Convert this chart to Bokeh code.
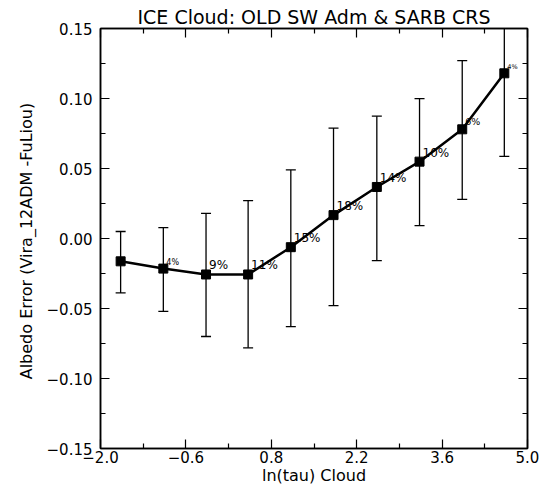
from bokeh.plotting import figure
from bokeh.models import (LinearAxis, FixedTicker, CustomJSTickFormatter, ColumnDataSource, Range1d)
from bokeh.embed import file_html
from bokeh.resources import INLINE
from bokeh.core.properties import value

# ---- data ----
ln_tau = [-1.67, -0.97, -0.27, 0.42, 1.12, 1.82, 2.53, 3.23, 3.93, 4.62]
albedo_err = [-0.0163, -0.0215, -0.0257, -0.0257, -0.0062, 0.0167, 0.0368, 0.0549, 0.0780, 0.1180]
err_upper = [0.0050, 0.0078, 0.0179, 0.0271, 0.0490, 0.0789, 0.0874, 0.0999, 0.1270, 0.1780]
err_lower = [-0.0389, -0.0521, -0.0700, -0.0781, -0.0629, -0.0479, -0.0158, 0.0092, 0.0280, 0.0587]
pct_labels = ["", "4%", "9%", "11%", "15%", "18%", "14%", "10%", "6%", "4%"]

x_ticks = [-2.0, -0.6, 0.8, 2.2, 3.6, 5.0]
x_minor = [-1.3, 0.1, 1.5, 2.9, 4.3]
y_ticks = [-0.15, -0.10, -0.05, 0.0, 0.05, 0.10, 0.15]
y_minor = [-0.125, -0.075, -0.025, 0.025, 0.075, 0.125]

# ---- styles ----
FONT = "DejaVu Sans"
label_sizes = ["1px", "8px", "12px", "12px", "12px", "12px", "12px", "12px", "9.5px", "6.5px"]

p = figure(width=542, height=487, output_backend="svg", toolbar_location=None,
           x_range=Range1d(-2.0, 5.0), y_range=Range1d(-0.15, 0.15),
           min_border_left=100, min_border_right=15, min_border_top=28, min_border_bottom=35,
           title="ICE Cloud: OLD SW Adm & SARB CRS")
p.title.align = "center"
p.title.text_font = FONT
p.title.text_font_size = "19px"
p.title.text_font_style = "normal"
p.title.text_color = "black"
p.title.standoff = 2
p.grid.visible = False
p.outline_line_color = "black"
p.outline_line_width = 1.5
p.background_fill_color = "white"
p.border_fill_color = "white"

xfmt = CustomJSTickFormatter(code="return (tick < 0 ? '\u2212' : '') + Math.abs(tick).toFixed(1);")
yfmt = CustomJSTickFormatter(code="return (tick < 0 ? '\u2212' : '') + Math.abs(tick).toFixed(2);")

def style_axis(ax, ticks, minor, fmt, show_labels):
    ax.ticker = FixedTicker(ticks=ticks, minor_ticks=minor)
    ax.axis_line_color = "black"
    ax.axis_line_width = 1.5
    ax.major_tick_in = 9
    ax.major_tick_out = 0
    ax.minor_tick_in = 5
    ax.minor_tick_out = 0
    ax.major_tick_line_color = "black"
    ax.minor_tick_line_color = "black"
    ax.major_tick_line_width = 1.2
    ax.minor_tick_line_width = 1.2
    ax.major_label_text_font = FONT
    ax.major_label_text_color = "black"
    ax.major_label_text_font_size = "15px"
    if show_labels:
        ax.formatter = fmt
    else:
        ax.formatter = CustomJSTickFormatter(code="return '';")
        ax.major_label_standoff = 0

xa = p.xaxis[0]
ya = p.yaxis[0]
style_axis(xa, x_ticks, x_minor, xfmt, True)
style_axis(ya, y_ticks, y_minor, yfmt, True)
xa.major_label_standoff = 2
ya.major_label_standoff = 8
xa.axis_label = "ln(tau) Cloud"
ya.axis_label = "Albedo Error (Vira_12ADM  -FuLiou)"
for ax in (xa, ya):
    ax.axis_label_text_font = FONT
    ax.axis_label_text_font_style = "normal"
    ax.axis_label_text_color = "black"
xa.axis_label_text_font_size = "16px"
ya.axis_label_text_font_size = "16px"
xa.axis_label_standoff = 0
ya.axis_label_standoff = 8

top_ax = LinearAxis()
right_ax = LinearAxis()
style_axis(top_ax, x_ticks, x_minor, xfmt, False)
style_axis(right_ax, y_ticks, y_minor, yfmt, False)
p.add_layout(top_ax, "above")
p.add_layout(right_ax, "right")

src = ColumnDataSource(dict(x=ln_tau, y=albedo_err, up=err_upper, lo=err_lower))
idx = [i for i, t in enumerate(pct_labels) if t]
lab_src = ColumnDataSource(dict(x=[ln_tau[i] for i in idx], y=[albedo_err[i] for i in idx],
                                lab=[pct_labels[i] for i in idx], fs=[label_sizes[i] for i in idx]))

p.segment(x0="x", y0="lo", x1="x", y1="up", source=src, line_color="black", line_width=1.3)
p.scatter(x="x", y="up", source=src, marker="dash", size=10, line_color="black", line_width=1.3)
p.scatter(x="x", y="lo", source=src, marker="dash", size=10, line_color="black", line_width=1.3)
p.line(x="x", y="y", source=src, line_color="black", line_width=2.5)
p.scatter(x="x", y="y", source=src, marker="square", size=9, fill_color="black", line_color="black")
p.text(x="x", y="y", text="lab", source=lab_src, text_font=value(FONT), text_font_size="fs",
       text_color="black", text_align="left", text_baseline="bottom", x_offset=3, y_offset=-2)

open("out.html", "w").write(file_html(p, INLINE))
